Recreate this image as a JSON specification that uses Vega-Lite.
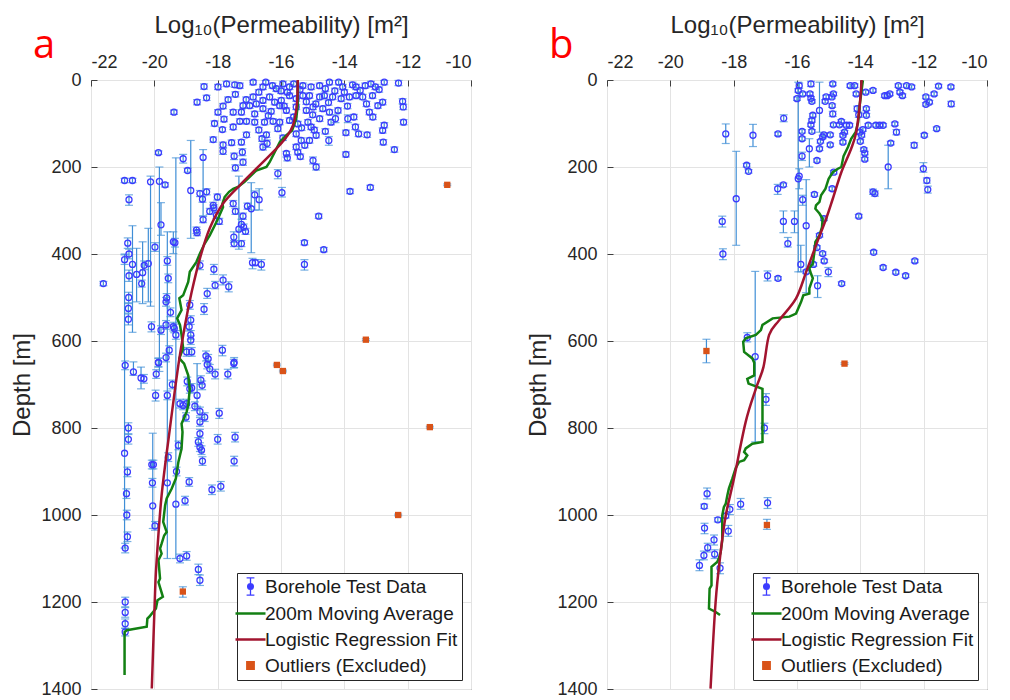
{
"$schema": "https://vega.github.io/schema/vega-lite/v6.json",
"background": "white",
"padding": {"left": 10, "top": 12, "right": 5, "bottom": 0},
"spacing": 54,
"config": {
  "font": "Liberation Sans",
  "view": {"stroke": "#404040", "strokeWidth": 1},
  "axis": {"labelFontSize": 18, "titleFontSize": 24, "titleFontWeight": "normal", "labelColor": "#262626", "titleColor": "#262626", "gridColor": "#e3e3e3", "gridWidth": 1, "domain": false, "tickColor": "#404040", "labelFont": "Liberation Sans", "titleFont": "Liberation Sans"},
  "legend": {"labelFont": "Liberation Sans"}
},
"resolve": {"scale": {"color": "independent"}, "legend": {"color": "independent"}},
"datasets": {
"ptsA": [
{"k":-18.43,"d":15,"lo":9,"hi":21},{"k":-17.99,"d":16,"lo":10,"hi":22},{"k":-17.72,"d":9,"lo":3,"hi":15},{"k":-17.46,"d":11,"lo":5,"hi":17},{"k":-17.3,"d":13,"lo":7,"hi":19},{"k":-16.88,"d":5,"lo":1,"hi":11},{"k":-16.57,"d":16,"lo":10,"hi":22},{"k":-16.48,"d":5,"lo":1,"hi":11},{"k":-16.27,"d":13,"lo":7,"hi":19},{"k":-16.15,"d":20,"lo":14,"hi":26},{"k":-15.94,"d":9,"lo":3,"hi":15},{"k":-15.73,"d":16,"lo":10,"hi":22},{"k":-15.6,"d":9,"lo":3,"hi":15},{"k":-15.31,"d":13,"lo":7,"hi":19},{"k":-15.05,"d":16,"lo":10,"hi":22},{"k":-14.78,"d":13,"lo":7,"hi":19},{"k":-14.47,"d":5,"lo":1,"hi":11},{"k":-14.18,"d":5,"lo":1,"hi":11},{"k":-14.05,"d":16,"lo":10,"hi":22},{"k":-13.74,"d":11,"lo":5,"hi":17},{"k":-13.63,"d":16,"lo":10,"hi":22},{"k":-13.34,"d":13,"lo":7,"hi":19},{"k":-13.16,"d":9,"lo":3,"hi":15},{"k":-13.02,"d":16,"lo":10,"hi":22},{"k":-12.74,"d":5,"lo":1,"hi":11},{"k":-12.29,"d":7,"lo":1,"hi":13},
{"k":-18.65,"d":51,"lo":45,"hi":57},{"k":-18.35,"d":41,"lo":35,"hi":47},{"k":-17.67,"d":45,"lo":39,"hi":51},{"k":-17.44,"d":33,"lo":27,"hi":39},{"k":-17.2,"d":59,"lo":53,"hi":65},{"k":-16.88,"d":39,"lo":33,"hi":45},{"k":-16.78,"d":55,"lo":49,"hi":61},{"k":-16.57,"d":47,"lo":41,"hi":53},{"k":-16.36,"d":39,"lo":33,"hi":45},{"k":-16.2,"d":51,"lo":45,"hi":57},{"k":-15.99,"d":47,"lo":41,"hi":53},{"k":-15.73,"d":36,"lo":30,"hi":42},{"k":-15.52,"d":43,"lo":37,"hi":49},{"k":-15.31,"d":36,"lo":30,"hi":42},{"k":-15.1,"d":36,"lo":30,"hi":42},{"k":-14.78,"d":39,"lo":33,"hi":45},{"k":-14.63,"d":36,"lo":30,"hi":42},{"k":-14.37,"d":39,"lo":33,"hi":45},{"k":-14.1,"d":43,"lo":37,"hi":49},{"k":-13.84,"d":39,"lo":33,"hi":45},{"k":-13.63,"d":36,"lo":30,"hi":42},{"k":-13.42,"d":39,"lo":33,"hi":45},{"k":-13.11,"d":36,"lo":30,"hi":42},{"k":-12.94,"d":59,"lo":53,"hi":65},{"k":-12.79,"d":51,"lo":45,"hi":57},{"k":-12.16,"d":49,"lo":43,"hi":55},
{"k":-19.38,"d":74,"lo":69,"hi":79},{"k":-17.99,"d":74,"lo":68,"hi":80},{"k":-17.83,"d":60,"lo":54,"hi":66},{"k":-17.51,"d":74,"lo":68,"hi":80},{"k":-17.25,"d":74,"lo":68,"hi":80},{"k":-16.99,"d":59,"lo":53,"hi":65},{"k":-16.83,"d":78,"lo":72,"hi":84},{"k":-16.57,"d":66,"lo":60,"hi":72},{"k":-16.31,"d":72,"lo":66,"hi":78},{"k":-16.04,"d":59,"lo":53,"hi":65},{"k":-15.83,"d":70,"lo":64,"hi":76},{"k":-15.52,"d":62,"lo":56,"hi":68},{"k":-15.2,"d":70,"lo":64,"hi":76},{"k":-14.99,"d":62,"lo":56,"hi":68},{"k":-14.68,"d":66,"lo":60,"hi":72},{"k":-14.47,"d":74,"lo":68,"hi":80},{"k":-14.28,"d":89,"lo":80,"hi":98},{"k":-13.89,"d":89,"lo":80,"hi":98},{"k":-13.65,"d":108,"lo":102,"hi":114},{"k":-13.21,"d":74,"lo":68,"hi":80},{"k":-12.74,"d":104,"lo":98,"hi":110},{"k":-12.14,"d":62,"lo":56,"hi":68},{"k":-12.13,"d":97,"lo":91,"hi":103},
{"k":-17.51,"d":108,"lo":102,"hi":114},{"k":-17.3,"d":95,"lo":89,"hi":101},{"k":-17.09,"d":95,"lo":89,"hi":101},{"k":-16.83,"d":97,"lo":91,"hi":103},{"k":-16.52,"d":97,"lo":91,"hi":103},{"k":-16.25,"d":95,"lo":89,"hi":101},{"k":-16.04,"d":97,"lo":91,"hi":103},{"k":-15.73,"d":93,"lo":87,"hi":99},{"k":-15.47,"d":101,"lo":95,"hi":107},{"k":-15.15,"d":97,"lo":91,"hi":103},{"k":-15.05,"d":108,"lo":102,"hi":114},{"k":-14.78,"d":89,"lo":83,"hi":95},{"k":-14.42,"d":97,"lo":91,"hi":103},{"k":-13.95,"d":121,"lo":115,"hi":127},{"k":-13.55,"d":124,"lo":118,"hi":130},{"k":-13.28,"d":126,"lo":120,"hi":132},{"k":-12.79,"d":116,"lo":110,"hi":122},{"k":-12.77,"d":143,"lo":137,"hi":149},
{"k":-18.14,"d":137,"lo":131,"hi":143},{"k":-17.85,"d":114,"lo":109,"hi":119},{"k":-17.83,"d":149,"lo":143,"hi":155},{"k":-17.56,"d":144,"lo":138,"hi":150},{"k":-17.25,"d":143,"lo":137,"hi":149},{"k":-17.09,"d":126,"lo":120,"hi":132},{"k":-16.46,"d":126,"lo":120,"hi":132},{"k":-16.44,"d":146,"lo":138,"hi":155},{"k":-15.94,"d":133,"lo":127,"hi":139},{"k":-15.52,"d":124,"lo":118,"hi":130},{"k":-15.36,"d":139,"lo":133,"hi":145},{"k":-15.1,"d":139,"lo":133,"hi":145},{"k":-14.89,"d":127,"lo":121,"hi":133},{"k":-14.49,"d":139,"lo":130,"hi":150},{"k":-13.95,"d":171,"lo":165,"hi":177},{"k":-12.42,"d":160,"lo":154,"hi":166},
{"k":-16.0,"d":25,"lo":19,"hi":31},{"k":-15.8,"d":28,"lo":22,"hi":34},{"k":-15.4,"d":22,"lo":16,"hi":28},{"k":-15.2,"d":50,"lo":44,"hi":56},{"k":-14.9,"d":55,"lo":49,"hi":61},{"k":-14.6,"d":20,"lo":14,"hi":26},{"k":-14.3,"d":25,"lo":19,"hi":31},{"k":-14.0,"d":28,"lo":22,"hi":34},{"k":-13.5,"d":24,"lo":18,"hi":30},{"k":-13.9,"d":60,"lo":54,"hi":66},{"k":-15.9,"d":60,"lo":54,"hi":66},{"k":-16.7,"d":28,"lo":22,"hi":34},{"k":-17.1,"d":45,"lo":39,"hi":51},{"k":-16.4,"d":82,"lo":76,"hi":88},{"k":-15.6,"d":85,"lo":79,"hi":91},{"k":-15.0,"d":80,"lo":74,"hi":86},{"k":-14.5,"d":52,"lo":46,"hi":58},{"k":-13.3,"d":55,"lo":49,"hi":61},{"k":-12.9,"d":22,"lo":16,"hi":28},{"k":-15.35,"d":110,"lo":104,"hi":116},{"k":-14.95,"d":115,"lo":109,"hi":121},{"k":-16.1,"d":112,"lo":106,"hi":118},{"k":-16.7,"d":115,"lo":109,"hi":121},{"k":-17.8,"d":90,"lo":84,"hi":96},{"k":-18.1,"d":100,"lo":94,"hi":106},{"k":-14.2,"d":70,"lo":64,"hi":76},{"k":-13.7,"d":85,"lo":79,"hi":91},{"k":-13.1,"d":85,"lo":79,"hi":91},{"k":-15.25,"d":150,"lo":144,"hi":156},{"k":-16.6,"d":135,"lo":129,"hi":141},{"k":-14.6,"d":118,"lo":112,"hi":124},
{"k":-19.87,"d":167,"lo":163,"hi":171},{"k":-19.09,"d":181,"lo":171,"hi":191},{"k":-18.95,"d":208,"lo":203,"hi":212},{"k":-18.85,"d":254,"lo":139,"hi":364},{"k":-18.46,"d":178,"lo":160,"hi":312},{"k":-17.83,"d":164,"lo":157,"hi":171},{"k":-17.48,"d":175,"lo":168,"hi":183},{"k":-17.44,"d":202,"lo":195,"hi":209},{"k":-17.22,"d":166,"lo":158,"hi":174},{"k":-17.2,"d":189,"lo":182,"hi":196},{"k":-16.57,"d":154,"lo":147,"hi":161},{"k":-16.1,"d":215,"lo":206,"hi":227},{"k":-15.97,"d":259,"lo":247,"hi":269},{"k":-15.83,"d":169,"lo":164,"hi":177},{"k":-15.8,"d":179,"lo":172,"hi":186},{"k":-15.52,"d":154,"lo":148,"hi":160},{"k":-15.47,"d":166,"lo":160,"hi":172},{"k":-15.39,"d":176,"lo":170,"hi":182},{"k":-14.99,"d":185,"lo":177,"hi":193},{"k":-14.89,"d":200,"lo":193,"hi":207},{"k":-13.82,"d":256,"lo":251,"hi":261},{"k":-13.18,"d":247,"lo":242,"hi":252},
{"k":-20.94,"d":231,"lo":226,"hi":236},{"k":-20.69,"d":231,"lo":226,"hi":236},{"k":-20.12,"d":234,"lo":221,"hi":520},{"k":-19.84,"d":233,"lo":200,"hi":670},{"k":-19.66,"d":241,"lo":236,"hi":246},{"k":-20.8,"d":275,"lo":264,"hi":288},
{"k":-18.56,"d":261,"lo":254,"hi":268},{"k":-18.35,"d":257,"lo":250,"hi":264},{"k":-18.48,"d":274,"lo":267,"hi":281},{"k":-18.01,"d":269,"lo":262,"hi":276},{"k":-18.14,"d":288,"lo":281,"hi":295},{"k":-18.25,"d":302,"lo":295,"hi":309},{"k":-18.12,"d":294,"lo":287,"hi":301},{"k":-18.04,"d":311,"lo":304,"hi":318},{"k":-18.46,"d":321,"lo":314,"hi":328},{"k":-17.95,"d":325,"lo":318,"hi":332},{"k":-17.51,"d":284,"lo":277,"hi":291},{"k":-17.44,"d":302,"lo":295,"hi":309},{"k":-17.2,"d":313,"lo":306,"hi":320},{"k":-17.25,"d":332,"lo":320,"hi":345},{"k":-17.18,"d":338,"lo":331,"hi":345},{"k":-17.12,"d":348,"lo":341,"hi":355},{"k":-17.49,"d":361,"lo":349,"hi":373},{"k":-17.33,"d":343,"lo":221,"hi":389},{"k":-17.48,"d":376,"lo":369,"hi":383},{"k":-17.25,"d":376,"lo":369,"hi":383},{"k":-17.06,"d":290,"lo":283,"hi":297},{"k":-16.94,"d":296,"lo":236,"hi":397},{"k":-16.83,"d":264,"lo":255,"hi":299},{"k":-16.69,"d":275,"lo":250,"hi":299},{"k":-16.9,"d":420,"lo":410,"hi":434},{"k":-16.81,"d":420,"lo":413,"hi":427},{"k":-16.62,"d":424,"lo":413,"hi":437},{"k":-15.26,"d":424,"lo":413,"hi":437},{"k":-15.26,"d":374,"lo":369,"hi":379},{"k":-14.81,"d":313,"lo":308,"hi":318},{"k":-14.65,"d":390,"lo":385,"hi":395},
{"k":-20.84,"d":375,"lo":363,"hi":387},{"k":-20.8,"d":400,"lo":389,"hi":411},{"k":-20.94,"d":413,"lo":402,"hi":424},{"k":-20.69,"d":424,"lo":335,"hi":580},{"k":-20.8,"d":450,"lo":437,"hi":463},{"k":-20.56,"d":447,"lo":387,"hi":510},{"k":-20.4,"d":468,"lo":460,"hi":476},{"k":-20.37,"d":443,"lo":372,"hi":514},{"k":-20.32,"d":426,"lo":416,"hi":436},{"k":-20.19,"d":422,"lo":341,"hi":510},{"k":-19.98,"d":384,"lo":374,"hi":394},{"k":-19.79,"d":333,"lo":282,"hi":357},{"k":-19.59,"d":416,"lo":406,"hi":426},{"k":-19.56,"d":456,"lo":446,"hi":466},{"k":-19.61,"d":501,"lo":491,"hi":511},{"k":-19.63,"d":510,"lo":500,"hi":520},{"k":-20.81,"d":500,"lo":488,"hi":512},{"k":-20.82,"d":525,"lo":514,"hi":536},{"k":-20.82,"d":550,"lo":538,"hi":563},{"k":-21.61,"d":468,"lo":463,"hi":473},{"k":-19.4,"d":372,"lo":349,"hi":399},{"k":-19.35,"d":374,"lo":364,"hi":384},{"k":-18.56,"d":426,"lo":416,"hi":436},{"k":-18.12,"d":435,"lo":424,"hi":447},{"k":-17.83,"d":460,"lo":448,"hi":471},{"k":-18.08,"d":472,"lo":463,"hi":480},{"k":-17.65,"d":475,"lo":464,"hi":487},{"k":-18.33,"d":491,"lo":479,"hi":502},{"k":-18.43,"d":527,"lo":514,"hi":539},{"k":-18.88,"d":517,"lo":507,"hi":527},{"k":-18.85,"d":552,"lo":542,"hi":562},{"k":-18.9,"d":567,"lo":557,"hi":577},{"k":-18.85,"d":586,"lo":576,"hi":596},{"k":-18.85,"d":598,"lo":588,"hi":608},{"k":-18.82,"d":625,"lo":615,"hi":635},{"k":-18.98,"d":625,"lo":615,"hi":635},{"k":-19.4,"d":567,"lo":557,"hi":577},{"k":-19.37,"d":571,"lo":561,"hi":581},{"k":-19.32,"d":586,"lo":576,"hi":596},{"k":-19.49,"d":534,"lo":524,"hi":544},{"k":-19.63,"d":563,"lo":553,"hi":573},{"k":-19.79,"d":575,"lo":565,"hi":585},{"k":-20.09,"d":567,"lo":556,"hi":579},{"k":-19.87,"d":649,"lo":639,"hi":659},{"k":-19.53,"d":621,"lo":611,"hi":631},{"k":-19.63,"d":638,"lo":628,"hi":648},{"k":-17.85,"d":621,"lo":610,"hi":634},{"k":-18.37,"d":634,"lo":623,"hi":646},{"k":-18.3,"d":641,"lo":631,"hi":651},{"k":-17.48,"d":649,"lo":638,"hi":661},{"k":-18.67,"d":345,"lo":338,"hi":353},{"k":-18.65,"d":351,"lo":344,"hi":358},
{"k":-20.92,"d":656,"lo":646,"hi":666},{"k":-20.66,"d":671,"lo":648,"hi":679},{"k":-20.42,"d":685,"lo":660,"hi":710},{"k":-20.33,"d":687,"lo":677,"hi":697},{"k":-19.94,"d":676,"lo":666,"hi":686},{"k":-19.87,"d":650,"lo":640,"hi":660},{"k":-19.43,"d":700,"lo":690,"hi":710},{"k":-19.59,"d":725,"lo":715,"hi":735},{"k":-19.96,"d":725,"lo":713,"hi":738},{"k":-19.19,"d":744,"lo":734,"hi":754},{"k":-19.09,"d":748,"lo":738,"hi":758},{"k":-18.98,"d":744,"lo":734,"hi":754},{"k":-19.0,"d":775,"lo":765,"hi":785},{"k":-18.72,"d":750,"lo":740,"hi":760},{"k":-18.53,"d":690,"lo":680,"hi":700},{"k":-18.49,"d":702,"lo":692,"hi":712},{"k":-18.33,"d":654,"lo":644,"hi":664},{"k":-18.25,"d":664,"lo":654,"hi":674},{"k":-18.08,"d":676,"lo":665,"hi":687},{"k":-17.68,"d":676,"lo":665,"hi":687},{"k":-17.49,"d":652,"lo":642,"hi":662},{"k":-17.95,"d":766,"lo":755,"hi":778},{"k":-18.56,"d":762,"lo":752,"hi":772},{"k":-18.41,"d":775,"lo":765,"hi":785},{"k":-18.56,"d":786,"lo":776,"hi":796},{"k":-18.82,"d":708,"lo":698,"hi":718},{"k":-18.88,"d":710,"lo":700,"hi":720},{"k":-18.96,"d":693,"lo":683,"hi":703},{"k":-20.82,"d":800,"lo":788,"hi":813},{"k":-20.82,"d":826,"lo":815,"hi":837},{"k":-20.94,"d":858,"lo":400,"hi":1076},{"k":-20.85,"d":901,"lo":890,"hi":912},{"k":-20.88,"d":951,"lo":940,"hi":962},{"k":-20.87,"d":1000,"lo":989,"hi":1011},{"k":-20.85,"d":1050,"lo":1039,"hi":1061},{"k":-20.92,"d":1076,"lo":1065,"hi":1087},{"k":-20.08,"d":884,"lo":874,"hi":894},{"k":-20.03,"d":884,"lo":874,"hi":894},{"k":-20.06,"d":926,"lo":916,"hi":936},{"k":-20.05,"d":979,"lo":812,"hi":1031},{"k":-19.98,"d":1025,"lo":1015,"hi":1035},{"k":-19.59,"d":926,"lo":349,"hi":1100},{"k":-19.56,"d":867,"lo":857,"hi":877},{"k":-19.32,"d":975,"lo":179,"hi":1100},{"k":-19.24,"d":840,"lo":830,"hi":850},{"k":-19.3,"d":900,"lo":890,"hi":910},{"k":-19.03,"d":967,"lo":957,"hi":977},{"k":-18.9,"d":924,"lo":914,"hi":934},{"k":-19.19,"d":1100,"lo":1090,"hi":1110},{"k":-18.98,"d":1094,"lo":1084,"hi":1104},{"k":-18.61,"d":1125,"lo":1113,"hi":1137},{"k":-18.56,"d":1150,"lo":1138,"hi":1162},{"k":-18.56,"d":813,"lo":803,"hi":823},{"k":-18.56,"d":844,"lo":834,"hi":854},{"k":-18.51,"d":851,"lo":841,"hi":861},{"k":-18.48,"d":876,"lo":866,"hi":886},{"k":-18.61,"d":832,"lo":822,"hi":842},{"k":-18.0,"d":826,"lo":815,"hi":837},{"k":-17.45,"d":821,"lo":810,"hi":832},{"k":-17.48,"d":876,"lo":865,"hi":887},{"k":-18.18,"d":942,"lo":931,"hi":953},{"k":-17.9,"d":934,"lo":923,"hi":945},{"k":-20.92,"d":1200,"lo":1189,"hi":1211},{"k":-20.92,"d":1224,"lo":1213,"hi":1235},{"k":-20.92,"d":1250,"lo":1239,"hi":1261},{"k":-20.92,"d":1269,"lo":1260,"hi":1278},{"k":-18.65,"d":725,"lo":652,"hi":750},
{"k":-10.75,"d":241,"lo":239,"hi":243,"s":"o"},{"k":-13.32,"d":597,"lo":595,"hi":599,"s":"o"},{"k":-16.13,"d":655,"lo":653,"hi":657,"s":"o"},{"k":-15.94,"d":669,"lo":667,"hi":671,"s":"o"},{"k":-11.3,"d":798,"lo":796,"hi":800,"s":"o"},{"k":-12.3,"d":1000,"lo":998,"hi":1002,"s":"o"},{"k":-19.1,"d":1176,"lo":1165,"hi":1189,"s":"o"}
],
"ptsB": [
{"k":-18.25,"d":124,"lo":101,"hi":146},{"k":-17.39,"d":127,"lo":102,"hi":153},{"k":-17.92,"d":273,"lo":164,"hi":380},{"k":-17.59,"d":196,"lo":192,"hi":200},{"k":-17.53,"d":210,"lo":206,"hi":214},{"k":-18.36,"d":325,"lo":313,"hi":338},{"k":-18.34,"d":400,"lo":388,"hi":413},{"k":-17.57,"d":592,"lo":581,"hi":602},{"k":-17.32,"d":636,"lo":440,"hi":832},{"k":-16.93,"d":450,"lo":439,"hi":462},{"k":-16.6,"d":456,"lo":452,"hi":460},{"k":-16.6,"d":124,"lo":120,"hi":128},{"k":-16.42,"d":88,"lo":80,"hi":96},{"k":-16.61,"d":250,"lo":240,"hi":263},{"k":-16.43,"d":241,"lo":237,"hi":245},{"k":-16.43,"d":325,"lo":301,"hi":351},{"k":-16.08,"d":325,"lo":301,"hi":351},{"k":-16.29,"d":376,"lo":362,"hi":384},
{"k":-15.93,"d":221,"lo":204,"hi":250},{"k":-15.96,"d":227,"lo":5,"hi":441},{"k":-15.84,"d":175,"lo":166,"hi":185},{"k":-15.84,"d":135,"lo":131,"hi":139},{"k":-15.84,"d":118,"lo":114,"hi":122},{"k":-15.82,"d":275,"lo":265,"hi":288},{"k":-15.71,"d":335,"lo":229,"hi":489},{"k":-15.88,"d":424,"lo":380,"hi":441},{"k":-15.71,"d":441,"lo":437,"hi":445},{"k":-15.61,"d":158,"lo":135,"hi":200},{"k":-15.53,"d":118,"lo":114,"hi":122},{"k":-15.56,"d":103,"lo":99,"hi":107},{"k":-15.53,"d":93,"lo":89,"hi":97},{"k":-15.5,"d":81,"lo":77,"hi":85},{"k":-15.56,"d":42,"lo":38,"hi":46},{"k":-15.53,"d":49,"lo":45,"hi":53},{"k":-15.59,"d":32,"lo":28,"hi":36},{"k":-15.56,"d":9,"lo":3,"hi":15},{"k":-15.82,"d":32,"lo":28,"hi":36},{"k":-16.0,"d":43,"lo":39,"hi":47},{"k":-15.93,"d":13,"lo":7,"hi":19},{"k":-15.96,"d":24,"lo":20,"hi":28},{"k":-15.45,"d":263,"lo":259,"hi":267},{"k":-15.29,"d":158,"lo":154,"hi":162},{"k":-15.37,"d":185,"lo":181,"hi":189},{"k":-15.26,"d":141,"lo":137,"hi":145},{"k":-15.19,"d":131,"lo":127,"hi":135},{"k":-15.15,"d":126,"lo":122,"hi":130},{"k":-15.08,"d":39,"lo":35,"hi":43},{"k":-15.11,"d":49,"lo":45,"hi":53},{"k":-14.95,"d":126,"lo":122,"hi":130},{"k":-14.95,"d":149,"lo":145,"hi":153},{"k":-14.89,"d":250,"lo":246,"hi":254},{"k":-14.84,"d":212,"lo":208,"hi":216},{"k":-14.89,"d":59,"lo":55,"hi":63},{"k":-14.87,"d":78,"lo":72,"hi":84},{"k":-14.85,"d":103,"lo":99,"hi":107},{"k":-14.87,"d":9,"lo":5,"hi":13},{"k":-14.85,"d":32,"lo":28,"hi":36},{"k":-14.66,"d":103,"lo":99,"hi":107},{"k":-14.6,"d":95,"lo":91,"hi":99},{"k":-14.55,"d":143,"lo":139,"hi":147},{"k":-14.55,"d":127,"lo":123,"hi":131},{"k":-14.5,"d":120,"lo":116,"hi":124},{"k":-14.44,"d":104,"lo":100,"hi":108},{"k":-14.34,"d":104,"lo":100,"hi":108},{"k":-14.32,"d":13,"lo":9,"hi":17},{"k":-14.18,"d":13,"lo":9,"hi":17},{"k":-14.13,"d":32,"lo":28,"hi":36},{"k":-14.1,"d":66,"lo":60,"hi":72},{"k":-14.05,"d":80,"lo":74,"hi":86},{"k":-14.02,"d":120,"lo":116,"hi":124},{"k":-14.0,"d":141,"lo":137,"hi":145},{"k":-13.96,"d":127,"lo":123,"hi":131},{"k":-13.92,"d":114,"lo":110,"hi":118},{"k":-13.89,"d":160,"lo":156,"hi":164},{"k":-13.86,"d":168,"lo":164,"hi":172},{"k":-13.86,"d":182,"lo":178,"hi":186},{"k":-13.81,"d":66,"lo":62,"hi":70},{"k":-13.83,"d":28,"lo":24,"hi":32},{"k":-13.81,"d":81,"lo":77,"hi":85},{"k":-13.75,"d":104,"lo":100,"hi":108},{"k":-13.6,"d":24,"lo":20,"hi":28},{"k":-13.51,"d":104,"lo":100,"hi":108},{"k":-13.39,"d":104,"lo":100,"hi":108},{"k":-13.28,"d":104,"lo":100,"hi":108},{"k":-13.23,"d":36,"lo":32,"hi":40},{"k":-13.15,"d":36,"lo":32,"hi":40},{"k":-13.07,"d":32,"lo":28,"hi":36},{"k":-13.12,"d":200,"lo":150,"hi":250},{"k":-13.04,"d":145,"lo":141,"hi":149},{"k":-12.91,"d":101,"lo":97,"hi":105},{"k":-12.86,"d":120,"lo":114,"hi":126},{"k":-12.8,"d":13,"lo":9,"hi":17},{"k":-12.75,"d":28,"lo":24,"hi":32},{"k":-12.67,"d":36,"lo":32,"hi":40},{"k":-12.54,"d":13,"lo":9,"hi":17},{"k":-12.38,"d":16,"lo":12,"hi":20},{"k":-12.3,"d":150,"lo":144,"hi":156},{"k":-12.01,"d":204,"lo":190,"hi":212},{"k":-11.93,"d":39,"lo":35,"hi":43},{"k":-11.9,"d":231,"lo":225,"hi":237},{"k":-11.87,"d":252,"lo":244,"hi":260},{"k":-11.98,"d":127,"lo":123,"hi":131},{"k":-11.93,"d":56,"lo":52,"hi":60},{"k":-11.82,"d":51,"lo":47,"hi":55},{"k":-11.67,"d":32,"lo":28,"hi":36},{"k":-11.59,"d":112,"lo":108,"hi":116},{"k":-11.53,"d":14,"lo":10,"hi":18},{"k":-11.14,"d":16,"lo":12,"hi":20},{"k":-11.13,"d":55,"lo":49,"hi":61},{"k":-14.05,"d":313,"lo":309,"hi":317},{"k":-13.58,"d":396,"lo":392,"hi":400},{"k":-13.28,"d":431,"lo":427,"hi":435},{"k":-12.88,"d":442,"lo":438,"hi":446},{"k":-12.57,"d":450,"lo":446,"hi":454},{"k":-12.28,"d":416,"lo":412,"hi":420},{"k":-13.6,"d":257,"lo":251,"hi":263},{"k":-13.54,"d":261,"lo":255,"hi":267},{"k":-15.14,"d":416,"lo":412,"hi":420},{"k":-15.35,"d":473,"lo":450,"hi":500},{"k":-15.01,"d":441,"lo":431,"hi":452},{"k":-14.59,"d":468,"lo":464,"hi":472},{"k":-15.48,"d":424,"lo":420,"hi":428},{"k":-15.37,"d":385,"lo":381,"hi":389},{"k":-15.19,"d":399,"lo":395,"hi":403},{"k":-15.29,"d":357,"lo":353,"hi":361},{"k":-15.15,"d":319,"lo":315,"hi":323},{"k":-14.9,"d":39,"lo":35,"hi":43},{"k":-15.29,"d":70,"lo":5,"hi":120},
{"k":-16.98,"d":734,"lo":721,"hi":748},{"k":-17.03,"d":800,"lo":789,"hi":813},{"k":-18.84,"d":951,"lo":938,"hi":963},{"k":-18.93,"d":980,"lo":975,"hi":985},{"k":-18.5,"d":1011,"lo":1006,"hi":1016},{"k":-18.92,"d":1030,"lo":1019,"hi":1043},{"k":-18.62,"d":1057,"lo":1046,"hi":1069},{"k":-18.82,"d":1075,"lo":1065,"hi":1085},{"k":-18.94,"d":1093,"lo":1083,"hi":1103},{"k":-19.08,"d":1116,"lo":1103,"hi":1128},{"k":-18.6,"d":1090,"lo":1080,"hi":1100},{"k":-18.43,"d":1122,"lo":1110,"hi":1135},{"k":-18.25,"d":1002,"lo":997,"hi":1007},{"k":-18.12,"d":987,"lo":976,"hi":999},{"k":-18.17,"d":1037,"lo":1024,"hi":1049},{"k":-17.78,"d":975,"lo":962,"hi":987},{"k":-16.93,"d":972,"lo":960,"hi":985},
{"k":-18.86,"d":623,"lo":596,"hi":650,"s":"o"},{"k":-14.5,"d":652,"lo":650,"hi":654,"s":"o"},{"k":-16.95,"d":1023,"lo":1010,"hi":1033,"s":"o"}
],
"maA": [
{"k":-15.47,"d":1},{"k":-15.47,"d":58},{"k":-15.52,"d":89},{"k":-15.65,"d":116},{"k":-15.83,"d":127},{"k":-16.04,"d":143},{"k":-16.2,"d":166},{"k":-16.36,"d":189},{"k":-16.46,"d":200},{"k":-16.78,"d":208},{"k":-16.94,"d":219},{"k":-17.15,"d":234},{"k":-17.36,"d":246},{"k":-17.51,"d":250},{"k":-17.64,"d":257},{"k":-17.78,"d":269},{"k":-17.85,"d":284},{"k":-17.83,"d":292},{"k":-17.99,"d":319},{"k":-18.09,"d":334},{"k":-18.25,"d":357},{"k":-18.41,"d":376},{"k":-18.56,"d":399},{"k":-18.67,"d":418},{"k":-18.88,"d":441},{"k":-18.93,"d":464},{"k":-19.09,"d":495},{"k":-19.21,"d":502},{"k":-19.14,"d":529},{"k":-19.28,"d":548},{"k":-19.19,"d":563},{"k":-19.14,"d":586},{"k":-19.09,"d":617},{"k":-19.21,"d":640},{"k":-19.06,"d":652},{"k":-18.93,"d":679},{"k":-18.88,"d":710},{"k":-18.93,"d":748},{"k":-18.98,"d":763},{"k":-19.14,"d":790},{"k":-19.11,"d":809},{"k":-19.14,"d":847},{"k":-19.24,"d":878},{"k":-19.32,"d":916},{"k":-19.45,"d":939},{"k":-19.61,"d":962},{"k":-19.66,"d":978},{"k":-19.72,"d":1016},{"k":-19.61,"d":1039},{"k":-19.69,"d":1047},{"k":-19.77,"d":1066},{"k":-19.82,"d":1077},{"k":-19.77,"d":1089},{"k":-19.87,"d":1104},{"k":-19.82,"d":1146},{"k":-19.87,"d":1154},{"k":-19.73,"d":1188},{"k":-19.9,"d":1196},{"k":-19.95,"d":1215},{"k":-20.16,"d":1234},{"k":-20.22,"d":1238},{"k":-20.24,"d":1257},{"k":-20.87,"d":1265},{"k":-20.94,"d":1269},{"k":-20.94,"d":1368}
],
"fitA": [
{"k":-15.47,"d":0},{"k":-15.5,"d":58},{"k":-15.62,"d":104},{"k":-15.83,"d":131},{"k":-16.2,"d":162},{"k":-16.78,"d":204},{"k":-17.3,"d":242},{"k":-17.83,"d":284},{"k":-18.25,"d":341},{"k":-18.56,"d":410},{"k":-18.82,"d":487},{"k":-19.03,"d":563},{"k":-19.24,"d":655},{"k":-19.51,"d":802},{"k":-19.77,"d":955},{"k":-19.93,"d":1108},{"k":-19.98,"d":1184},{"k":-20.08,"d":1399}
],
"maB": [
{"k":-13.92,"d":1},{"k":-14.02,"d":58},{"k":-14.07,"d":97},{"k":-14.15,"d":120},{"k":-14.29,"d":135},{"k":-14.39,"d":154},{"k":-14.53,"d":175},{"k":-14.6,"d":200},{"k":-14.71,"d":204},{"k":-14.87,"d":212},{"k":-15.0,"d":227},{"k":-15.1,"d":250},{"k":-15.24,"d":265},{"k":-15.29,"d":280},{"k":-15.4,"d":288},{"k":-15.42,"d":296},{"k":-15.29,"d":307},{"k":-15.19,"d":319},{"k":-15.21,"d":338},{"k":-15.29,"d":357},{"k":-15.42,"d":372},{"k":-15.45,"d":395},{"k":-15.5,"d":422},{"k":-15.61,"d":433},{"k":-15.56,"d":445},{"k":-15.5,"d":456},{"k":-15.61,"d":479},{"k":-15.61,"d":491},{"k":-15.8,"d":495},{"k":-15.87,"d":510},{"k":-16.03,"d":537},{"k":-16.24,"d":544},{"k":-16.77,"d":548},{"k":-17.09,"d":563},{"k":-17.14,"d":575},{"k":-17.3,"d":586},{"k":-17.62,"d":594},{"k":-17.7,"d":602},{"k":-17.67,"d":625},{"k":-17.41,"d":640},{"k":-17.35,"d":650},{"k":-17.35,"d":679},{"k":-17.57,"d":687},{"k":-17.53,"d":698},{"k":-17.09,"d":710},{"k":-17.09,"d":832},{"k":-17.41,"d":836},{"k":-17.62,"d":847},{"k":-17.67,"d":855},{"k":-17.57,"d":863},{"k":-17.67,"d":874},{"k":-17.83,"d":878},{"k":-17.94,"d":893},{"k":-18.04,"d":916},{"k":-18.15,"d":939},{"k":-18.2,"d":955},{"k":-18.25,"d":974},{"k":-18.31,"d":982},{"k":-18.36,"d":1001},{"k":-18.36,"d":1058},{"k":-18.41,"d":1085},{"k":-18.47,"d":1100},{"k":-18.52,"d":1108},{"k":-18.7,"d":1119},{"k":-18.7,"d":1162},{"k":-18.76,"d":1169},{"k":-18.78,"d":1215},{"k":-18.57,"d":1223},{"k":-18.43,"d":1230}
],
"fitB": [
{"k":-13.96,"d":0},{"k":-14.02,"d":58},{"k":-14.13,"d":120},{"k":-14.29,"d":158},{"k":-14.6,"d":212},{"k":-14.87,"d":273},{"k":-15.08,"d":319},{"k":-15.4,"d":380},{"k":-15.71,"d":441},{"k":-16.03,"d":502},{"k":-16.56,"d":552},{"k":-16.88,"d":586},{"k":-17.06,"d":660},{"k":-17.3,"d":710},{"k":-17.62,"d":786},{"k":-17.99,"d":916},{"k":-18.25,"d":1001},{"k":-18.41,"d":1085},{"k":-18.57,"d":1200},{"k":-18.73,"d":1399}
]
},
"hconcat": [
{
  "width": 380, "height": 609,
  "title": {"text": "a", "color": "#ff0000", "fontSize": 40, "font": "Open Sans", "fontWeight": "normal", "anchor": "start", "frame": "group", "dx": -58, "dy": 85, "offset": 0, "baseline": "alphabetic"},
  "layer": [
    {"data": {"name": "ptsA"}, "mark": {"type": "rule", "color": "#3f8ed6", "strokeWidth": 1.2},
     "encoding": {
       "x": {"field": "k", "type": "quantitative", "scale": {"domain": [-22, -10], "nice": false}, "axis": {"orient": "top", "values": [-22,-20,-18,-16,-14,-12,-10], "title": "Log₁₀(Permeability) [m²]", "labelExpr": "'' + datum.value", "tickSize": -6, "labelPadding": 15, "titlePadding": 16, "grid": true}},
       "y": {"field": "lo", "type": "quantitative", "scale": {"domain": [0, 1400], "reverse": true, "nice": false}, "axis": {"values": [0,200,400,600,800,1000,1200,1400], "title": "Depth [m]", "labelExpr": "'' + datum.value", "tickSize": -6, "labelPadding": 16, "titlePadding": 6, "grid": true}},
       "y2": {"field": "hi"}}},
    {"data": {"name": "ptsA"}, "mark": {"type": "tick", "orient": "horizontal", "size": 8, "thickness": 1.2, "color": "#3f8ed6"},
     "encoding": {"x": {"field": "k", "type": "quantitative"}, "y": {"field": "lo", "type": "quantitative"}}},
    {"data": {"name": "ptsA"}, "mark": {"type": "tick", "orient": "horizontal", "size": 8, "thickness": 1.2, "color": "#3f8ed6"},
     "encoding": {"x": {"field": "k", "type": "quantitative"}, "y": {"field": "hi", "type": "quantitative"}}},
    {"data": {"name": "ptsA"}, "transform": [{"filter": "datum.s !== 'o'"}], "mark": {"type": "point", "filled": false, "size": 36, "strokeWidth": 1.3, "opacity": 1},
     "encoding": {"x": {"field": "k", "type": "quantitative"}, "y": {"field": "d", "type": "quantitative"},
       "color": {"datum": "Borehole Test Data", "type": "nominal",
         "scale": {"domain": ["Borehole Test Data", "200m Moving Average", "Logistic Regression Fit", "Outliers (Excluded)"], "range": ["#3c3cff", "#138013", "#a2142f", "#d95319"]},
         "legend": {"orient": "bottom-right", "offset": 9, "title": null, "labelFontSize": 19, "labelColor": "#1a1a1a", "strokeColor": "#262626", "fillColor": "white", "padding": 4, "rowPadding": 6, "symbolSize": 576, "symbolType": "stroke", "symbolStrokeWidth": 2.5, "labelOffset": 5, "labelLimit": 400,
           "encoding": {"symbols": {
             "shape": {"value": {"expr": "datum.value === 'Borehole Test Data' ? 'M0,-1L0,1M-0.45,-1L0.45,-1M-0.45,1L0.45,1M0.33,0A0.33,0.33,0,1,1,-0.33,0A0.33,0.33,0,1,1,0.33,0' : datum.value === 'Outliers (Excluded)' ? 'square' : 'stroke'"}},
             "size": {"value": {"expr": "datum.value === 'Borehole Test Data' ? 300 : datum.value === 'Outliers (Excluded)' ? 40 : 900"}},
             "fill": {"value": {"expr": "datum.value === 'Outliers (Excluded)' ? '#d95319' : 'transparent'"}},
             "stroke": {"value": {"expr": "datum.value === 'Borehole Test Data' ? '#3f6fe6' : datum.value === 'Outliers (Excluded)' ? 'transparent' : datum.value === '200m Moving Average' ? '#138013' : '#a2142f'"}},
             "strokeWidth": {"value": {"expr": "datum.value === 'Borehole Test Data' ? 1.3 : 2.5"}}
           }}}}}},
    {"data": {"name": "maA"}, "mark": {"type": "line", "strokeWidth": 2.5},
     "encoding": {"x": {"field": "k", "type": "quantitative"}, "y": {"field": "d", "type": "quantitative"}, "order": {"field": "d", "type": "quantitative"}, "color": {"datum": "200m Moving Average", "type": "nominal"}}},
    {"data": {"name": "fitA"}, "mark": {"type": "line", "strokeWidth": 2.5, "interpolate": "cardinal"},
     "encoding": {"x": {"field": "k", "type": "quantitative"}, "y": {"field": "d", "type": "quantitative"}, "order": {"field": "d", "type": "quantitative"}, "color": {"datum": "Logistic Regression Fit", "type": "nominal"}}},
    {"data": {"name": "ptsA"}, "transform": [{"filter": "datum.s === 'o'"}], "mark": {"type": "square", "filled": true, "size": 40, "opacity": 1},
     "encoding": {"x": {"field": "k", "type": "quantitative"}, "y": {"field": "d", "type": "quantitative"}, "color": {"datum": "Outliers (Excluded)", "type": "nominal"}}}
  ]
},
{
  "width": 380, "height": 609,
  "title": {"text": "b", "color": "#ff0000", "fontSize": 40, "font": "Open Sans", "fontWeight": "normal", "anchor": "start", "frame": "group", "dx": -58, "dy": 85, "offset": 0, "baseline": "alphabetic"},
  "layer": [
    {"data": {"name": "ptsB"}, "mark": {"type": "rule", "color": "#3f8ed6", "strokeWidth": 1.2},
     "encoding": {
       "x": {"field": "k", "type": "quantitative", "scale": {"domain": [-22, -10], "nice": false}, "axis": {"orient": "top", "values": [-22,-20,-18,-16,-14,-12,-10], "title": "Log₁₀(Permeability) [m²]", "labelExpr": "'' + datum.value", "tickSize": -6, "labelPadding": 15, "titlePadding": 16, "grid": true}},
       "y": {"field": "lo", "type": "quantitative", "scale": {"domain": [0, 1400], "reverse": true, "nice": false}, "axis": {"values": [0,200,400,600,800,1000,1200,1400], "title": "Depth [m]", "labelExpr": "'' + datum.value", "tickSize": -6, "labelPadding": 16, "titlePadding": 6, "grid": true}},
       "y2": {"field": "hi"}}},
    {"data": {"name": "ptsB"}, "mark": {"type": "tick", "orient": "horizontal", "size": 8, "thickness": 1.2, "color": "#3f8ed6"},
     "encoding": {"x": {"field": "k", "type": "quantitative"}, "y": {"field": "lo", "type": "quantitative"}}},
    {"data": {"name": "ptsB"}, "mark": {"type": "tick", "orient": "horizontal", "size": 8, "thickness": 1.2, "color": "#3f8ed6"},
     "encoding": {"x": {"field": "k", "type": "quantitative"}, "y": {"field": "hi", "type": "quantitative"}}},
    {"data": {"name": "ptsB"}, "transform": [{"filter": "datum.s !== 'o'"}], "mark": {"type": "point", "filled": false, "size": 36, "strokeWidth": 1.3, "opacity": 1},
     "encoding": {"x": {"field": "k", "type": "quantitative"}, "y": {"field": "d", "type": "quantitative"},
       "color": {"datum": "Borehole Test Data", "type": "nominal",
         "scale": {"domain": ["Borehole Test Data", "200m Moving Average", "Logistic Regression Fit", "Outliers (Excluded)"], "range": ["#3c3cff", "#138013", "#a2142f", "#d95319"]},
         "legend": {"orient": "bottom-right", "offset": 9, "title": null, "labelFontSize": 19, "labelColor": "#1a1a1a", "strokeColor": "#262626", "fillColor": "white", "padding": 4, "rowPadding": 6, "symbolSize": 576, "symbolType": "stroke", "symbolStrokeWidth": 2.5, "labelOffset": 5, "labelLimit": 400,
           "encoding": {"symbols": {
             "shape": {"value": {"expr": "datum.value === 'Borehole Test Data' ? 'M0,-1L0,1M-0.45,-1L0.45,-1M-0.45,1L0.45,1M0.33,0A0.33,0.33,0,1,1,-0.33,0A0.33,0.33,0,1,1,0.33,0' : datum.value === 'Outliers (Excluded)' ? 'square' : 'stroke'"}},
             "size": {"value": {"expr": "datum.value === 'Borehole Test Data' ? 300 : datum.value === 'Outliers (Excluded)' ? 40 : 900"}},
             "fill": {"value": {"expr": "datum.value === 'Outliers (Excluded)' ? '#d95319' : 'transparent'"}},
             "stroke": {"value": {"expr": "datum.value === 'Borehole Test Data' ? '#3f6fe6' : datum.value === 'Outliers (Excluded)' ? 'transparent' : datum.value === '200m Moving Average' ? '#138013' : '#a2142f'"}},
             "strokeWidth": {"value": {"expr": "datum.value === 'Borehole Test Data' ? 1.3 : 2.5"}}
           }}}}}},
    {"data": {"name": "maB"}, "mark": {"type": "line", "strokeWidth": 2.5},
     "encoding": {"x": {"field": "k", "type": "quantitative"}, "y": {"field": "d", "type": "quantitative"}, "order": {"field": "d", "type": "quantitative"}, "color": {"datum": "200m Moving Average", "type": "nominal"}}},
    {"data": {"name": "fitB"}, "mark": {"type": "line", "strokeWidth": 2.5, "interpolate": "cardinal"},
     "encoding": {"x": {"field": "k", "type": "quantitative"}, "y": {"field": "d", "type": "quantitative"}, "order": {"field": "d", "type": "quantitative"}, "color": {"datum": "Logistic Regression Fit", "type": "nominal"}}},
    {"data": {"name": "ptsB"}, "transform": [{"filter": "datum.s === 'o'"}], "mark": {"type": "square", "filled": true, "size": 40, "opacity": 1},
     "encoding": {"x": {"field": "k", "type": "quantitative"}, "y": {"field": "d", "type": "quantitative"}, "color": {"datum": "Outliers (Excluded)", "type": "nominal"}}}
  ]
}
]
}
